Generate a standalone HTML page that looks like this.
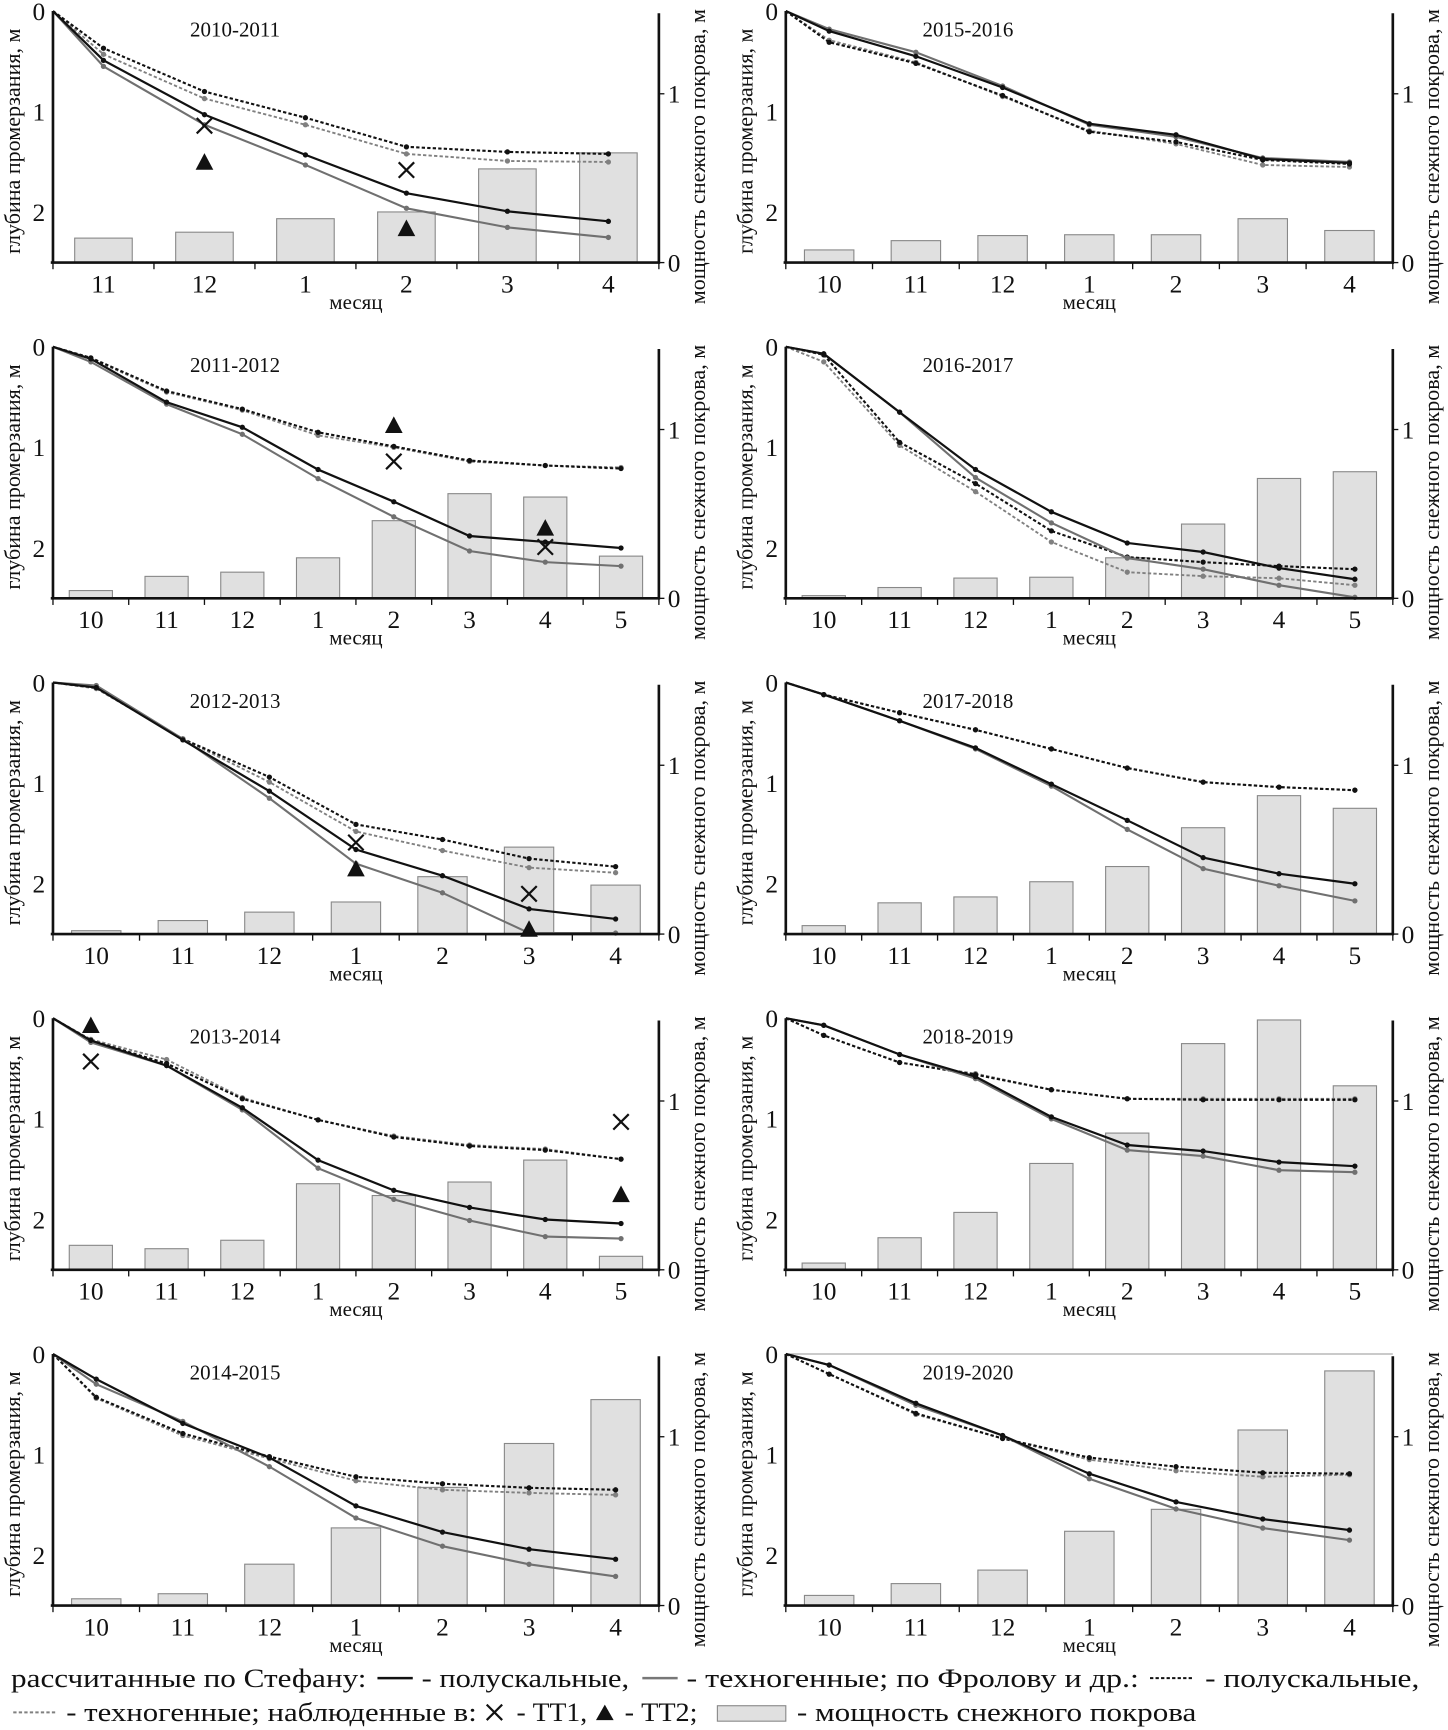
<!DOCTYPE html>
<html><head><meta charset="utf-8"><style>
html,body{margin:0;padding:0;background:#fff;}
svg{display:block;}
text{font-family:"Liberation Serif",serif;fill:#111;}
</style></head><body>
<svg id="fig" width="1448" height="1730" viewBox="0 0 1312 1568" preserveAspectRatio="none" xmlns="http://www.w3.org/2000/svg">
<rect x="0" y="0" width="1312" height="1568" fill="#fff"/>
<g id="panels"></g>
<g id="legend">
  <text x="10" y="1529" font-size="24" textLength="322" lengthAdjust="spacingAndGlyphs">рассчитанные по Стефану:</text>
  <line x1="342" y1="1521" x2="374" y2="1521" stroke="#111" stroke-width="2.2"/>
  <text x="382" y="1529" font-size="24" textLength="188" lengthAdjust="spacingAndGlyphs">- полускальные,</text>
  <line x1="582" y1="1521" x2="614" y2="1521" stroke="#777" stroke-width="2.2"/>
  <text x="622" y="1529" font-size="24" textLength="410" lengthAdjust="spacingAndGlyphs">- техногенные; по Фролову и др.:</text>
  <line x1="1042" y1="1521" x2="1080" y2="1521" stroke="#111" stroke-width="1.8" stroke-dasharray="3,2"/>
  <text x="1092" y="1529" font-size="24" textLength="194" lengthAdjust="spacingAndGlyphs">- полускальные,</text>
  <line x1="12" y1="1552" x2="52" y2="1552" stroke="#808080" stroke-width="1.8" stroke-dasharray="3,2"/>
  <text x="60" y="1560" font-size="24" textLength="372" lengthAdjust="spacingAndGlyphs">- техногенные; наблюденные в:</text>
  <path d="M441,1545 L455,1559 M455,1545 L441,1559" stroke="#111" stroke-width="2"/>
  <text x="468" y="1560" font-size="24" textLength="64" lengthAdjust="spacingAndGlyphs">- ТТ1,</text>
  <path d="M540,1559 L548,1545 L556,1559 Z" fill="#111"/>
  <text x="566" y="1560" font-size="24" textLength="66" lengthAdjust="spacingAndGlyphs">- ТТ2;</text>
  <rect x="650" y="1546" width="62" height="14" fill="#e0e0e0" stroke="#888"/>
  <text x="722" y="1560" font-size="24" textLength="362" lengthAdjust="spacingAndGlyphs">- мощность снежного покрова</text>
</g>
</svg>
<script>
const panelTitles = ["2010-2011","2011-2012","2012-2013","2013-2014","2014-2015","2015-2016","2016-2017","2017-2018","2018-2019","2019-2020"];
const panelMonths = [
 ["11","12","1","2","3","4"],
 ["10","11","12","1","2","3","4","5"],
 ["10","11","12","1","2","3","4"],
 ["10","11","12","1","2","3","4","5"],
 ["10","11","12","1","2","3","4"],
 ["10","11","12","1","2","3","4"],
 ["10","11","12","1","2","3","4","5"],
 ["10","11","12","1","2","3","4","5"],
 ["10","11","12","1","2","3","4","5"],
 ["10","11","12","1","2","3","4"]
];
const stefanSemi = [
 [0.49,1.03,1.43,1.81,1.99,2.09],
 [0.12,0.55,0.80,1.22,1.54,1.88,1.94,2.00],
 [0.05,0.57,1.08,1.66,1.92,2.25,2.35],
 [0.22,0.47,0.89,1.41,1.71,1.88,2.00,2.04],
 [0.25,0.69,1.03,1.51,1.77,1.94,2.04],
 [0.20,0.45,0.76,1.12,1.23,1.47,1.51],
 [0.07,0.65,1.22,1.64,1.95,2.04,2.20,2.31],
 [0.12,0.38,0.65,1.01,1.37,1.74,1.90,2.00],
 [0.07,0.36,0.58,0.98,1.26,1.32,1.43,1.47],
 [0.11,0.49,0.81,1.19,1.47,1.64,1.75]
];
const stefanTech = [
 [0.55,1.13,1.53,1.96,2.15,2.25],
 [0.15,0.57,0.87,1.31,1.69,2.03,2.14,2.18],
 [0.03,0.56,1.15,1.80,2.09,2.49,2.49],
 [0.24,0.47,0.91,1.49,1.80,2.01,2.17,2.19],
 [0.30,0.67,1.12,1.63,1.91,2.09,2.21],
 [0.18,0.41,0.745,1.13,1.25,1.46,1.50],
 [0.07,0.65,1.30,1.75,2.10,2.21,2.37,2.49],
 [0.12,0.38,0.66,1.03,1.46,1.85,2.02,2.17],
 [0.07,0.36,0.60,1.00,1.31,1.37,1.51,1.53],
 [0.11,0.51,0.81,1.24,1.54,1.73,1.85]
];
const frolovSemi = [
 [0.37,0.80,1.06,1.35,1.40,1.42],
 [0.11,0.44,0.62,0.85,0.99,1.13,1.18,1.21],
 [0.05,0.56,0.94,1.41,1.56,1.75,1.83],
 [0.22,0.45,0.80,1.01,1.18,1.27,1.31,1.40],
 [0.43,0.79,1.02,1.22,1.29,1.33,1.35],
 [0.31,0.52,0.84,1.20,1.30,1.48,1.52],
 [0.08,0.95,1.36,1.83,2.09,2.14,2.18,2.21],
 [0.12,0.30,0.47,0.66,0.85,0.99,1.04,1.07],
 [0.17,0.44,0.56,0.71,0.80,0.81,0.81,0.81],
 [0.20,0.59,0.84,1.03,1.12,1.18,1.19]
];
const frolovTech = [
 [0.43,0.87,1.13,1.42,1.49,1.50],
 [0.12,0.45,0.63,0.88,1.00,1.14,1.18,1.20],
 [0.06,0.56,0.99,1.48,1.67,1.84,1.89],
 [0.21,0.41,0.79,1.01,1.17,1.26,1.30,1.40],
 [0.44,0.81,1.04,1.26,1.35,1.38,1.40],
 [0.29,0.51,0.85,1.19,1.32,1.53,1.55],
 [0.15,0.98,1.44,1.94,2.24,2.28,2.30,2.37],
 [0.12,0.30,0.47,0.66,0.85,0.99,1.04,1.07],
 [0.17,0.44,0.55,0.71,0.80,0.80,0.80,0.80],
 [0.20,0.60,0.84,1.05,1.16,1.22,1.20]
];
const snowDepth = [
 [0.145,0.18,0.26,0.30,0.555,0.65],
 [0.046,0.13,0.155,0.24,0.46,0.62,0.60,0.25],
 [0.02,0.08,0.13,0.19,0.34,0.515,0.29],
 [0.145,0.125,0.175,0.51,0.44,0.52,0.65,0.08],
 [0.04,0.07,0.245,0.46,0.70,0.96,1.22],
 [0.075,0.13,0.16,0.165,0.165,0.26,0.19],
 [0.016,0.064,0.12,0.125,0.24,0.44,0.71,0.75],
 [0.05,0.185,0.22,0.31,0.40,0.63,0.82,0.745],
 [0.04,0.19,0.34,0.63,0.81,1.34,1.48,1.09],
 [0.06,0.13,0.21,0.44,0.57,1.04,1.39]
];
// observations: [monthIndex, depth]
const tt1Obs = [
 [[1,1.14],[3,1.58]],
 [[4,1.14],[6,1.99]],
 [[3,1.59],[5,2.10]],
 [[0,0.43],[7,1.03]],
 [],[],[],[],[],[]
];
const tt2Obs = [
 [[1,1.50],[3,2.16]],
 [[4,0.78],[6,1.80]],
 [[3,1.85],[5,2.45]],
 [[0,0.07],[7,1.75]],
 [],[],[],[],[],[]
];

const NS = "http://www.w3.org/2000/svg";
const root = document.getElementById("panels");
function mk(tag, attrs, parent){
  const e = document.createElementNS(NS, tag);
  for (const k in attrs) e.setAttribute(k, attrs[k]);
  parent.appendChild(e);
  return e;
}
const DEPTH_MAX = 2.5, SNOW_PER_M = 153;

panelTitles.forEach((title, i) => {
  const col = i < 5 ? 0 : 1, row = i % 5;
  const L = col === 0 ? 48 : 712, R = col === 0 ? 597 : 1262;
  const y0 = 10 + 304.3 * row, H = 228, yB = y0 + H;
  const months = panelMonths[i], n = months.length, bw = (R - L) / n;
  const xAt = k => L + (k + 0.5) * bw;
  const yD = d => y0 + d / DEPTH_MAX * H;
  const yS = s => yB - s * SNOW_PER_M;

  const g = mk("g", {}, root);
  
  

  if (i === 9) {
    const top = mk("line", {x1:L, y1:y0, x2:R, y2:y0, stroke:"#aaa", "stroke-width":1.2}, g);
    
    
  }

  // bars
  snowDepth[i].forEach((s, k) => {
    const w = bw * 0.57;
    const b = mk("rect", {x:xAt(k) - w/2, y:yS(s), width:w, height:yB - yS(s), fill:"#e0e0e0", stroke:"#888", "stroke-width":1}, g);
    
    
  });

  // series
  const series = [
    [frolovTech[i], "#808080", "3,2", 1.7, "frolov-tech-line"],
    [frolovSemi[i], "#111", "3,2", 1.9, "frolov-semi-line"],
    [stefanTech[i], "#707070", null, 1.9, "stefan-tech-line"],
    [stefanSemi[i], "#111", null, 2.0, "stefan-semi-line"]
  ];
  series.forEach(([vals, color, dash, sw, nm]) => {
    let d = "M" + L + "," + yD(0);
    vals.forEach((v, k) => { d += " L" + xAt(k).toFixed(1) + "," + yD(v).toFixed(1); });
    const p = mk("path", {d:d, fill:"none", stroke:color, "stroke-width":sw}, g);
    if (dash) p.setAttribute("stroke-dasharray", dash);
    
    
    vals.forEach((v, k) => {
      const c = mk("circle", {cx:xAt(k), cy:yD(v), r:2.4, fill:color}, g);
      
      
    });
  });

  // observations
  tt1Obs[i].forEach(([k, v]) => {
    const x = xAt(k), y = yD(v), s = 7;
    const m = mk("path", {d:`M${x-s},${y-s} L${x+s},${y+s} M${x+s},${y-s} L${x-s},${y+s}`, stroke:"#111", "stroke-width":2}, g);
    
    
  });
  tt2Obs[i].forEach(([k, v]) => {
    const x = xAt(k), y = yD(v);
    const m = mk("path", {d:`M${x-8},${y+7} L${x},${y-8} L${x+8},${y+7} Z`, fill:"#111"}, g);
    
    
  });

  // axes
  const ax = mk("path", {d:`M${L},${y0} L${L},${yB+1} M${L-2},${yB} L${R+1},${yB} M${R},${y0+2} L${R},${yB+1}`, fill:"none", stroke:"#111", "stroke-width":2.4}, g);
  
  
  for (let k = 0; k <= n; k++) {
    const x = L + k * bw;
    const t = mk("line", {x1:x, y1:yB, x2:x, y2:yB + 6, stroke:"#111", "stroke-width":1.2}, g);
    
    
  }
  months.forEach((m, k) => {
    const t = mk("text", {x:xAt(k), y:yB + 27, "font-size":23, "text-anchor":"middle"}, g);
    t.textContent = m;
    
    
  });
  const xl = mk("text", {x:(L + R) / 2, y:yB + 42, "font-size":19, "text-anchor":"middle"}, g);
  xl.textContent = "месяц";
  
  

  [0, 1, 2].forEach(v => {
    const t = mk("text", {x:L - 7, y:yD(v) + (v === 0 ? 8 : 8), "font-size":23, "text-anchor":"end"}, g);
    t.textContent = v;
    
    
  });
  [0, 1].forEach(v => {
    const tk = mk("line", {x1:R, y1:yS(v), x2:R + 5, y2:yS(v), stroke:"#111", "stroke-width":1.2}, g);
    
    
    const t = mk("text", {x:R + 8, y:yS(v) + 8, "font-size":23}, g);
    t.textContent = v;
    
    
  });

  const yl = mk("text", {x:0, y:0, "font-size":20, "text-anchor":"middle", transform:`translate(${L - 30},${y0 + 118}) rotate(-90)`}, g);
  yl.textContent = "глубина промерзания, м";
  
  
  const yr = mk("text", {x:0, y:0, "font-size":20, "text-anchor":"middle", transform:`translate(${R + 42},${y0 + 132}) rotate(-90)`}, g);
  yr.textContent = "мощность снежного покрова, м";
  
  

  const tt = mk("text", {x:L + 165, y:y0 + 23, "font-size":19, "text-anchor":"middle"}, g);
  tt.textContent = title;
  
  
});
</script>
</body></html>
